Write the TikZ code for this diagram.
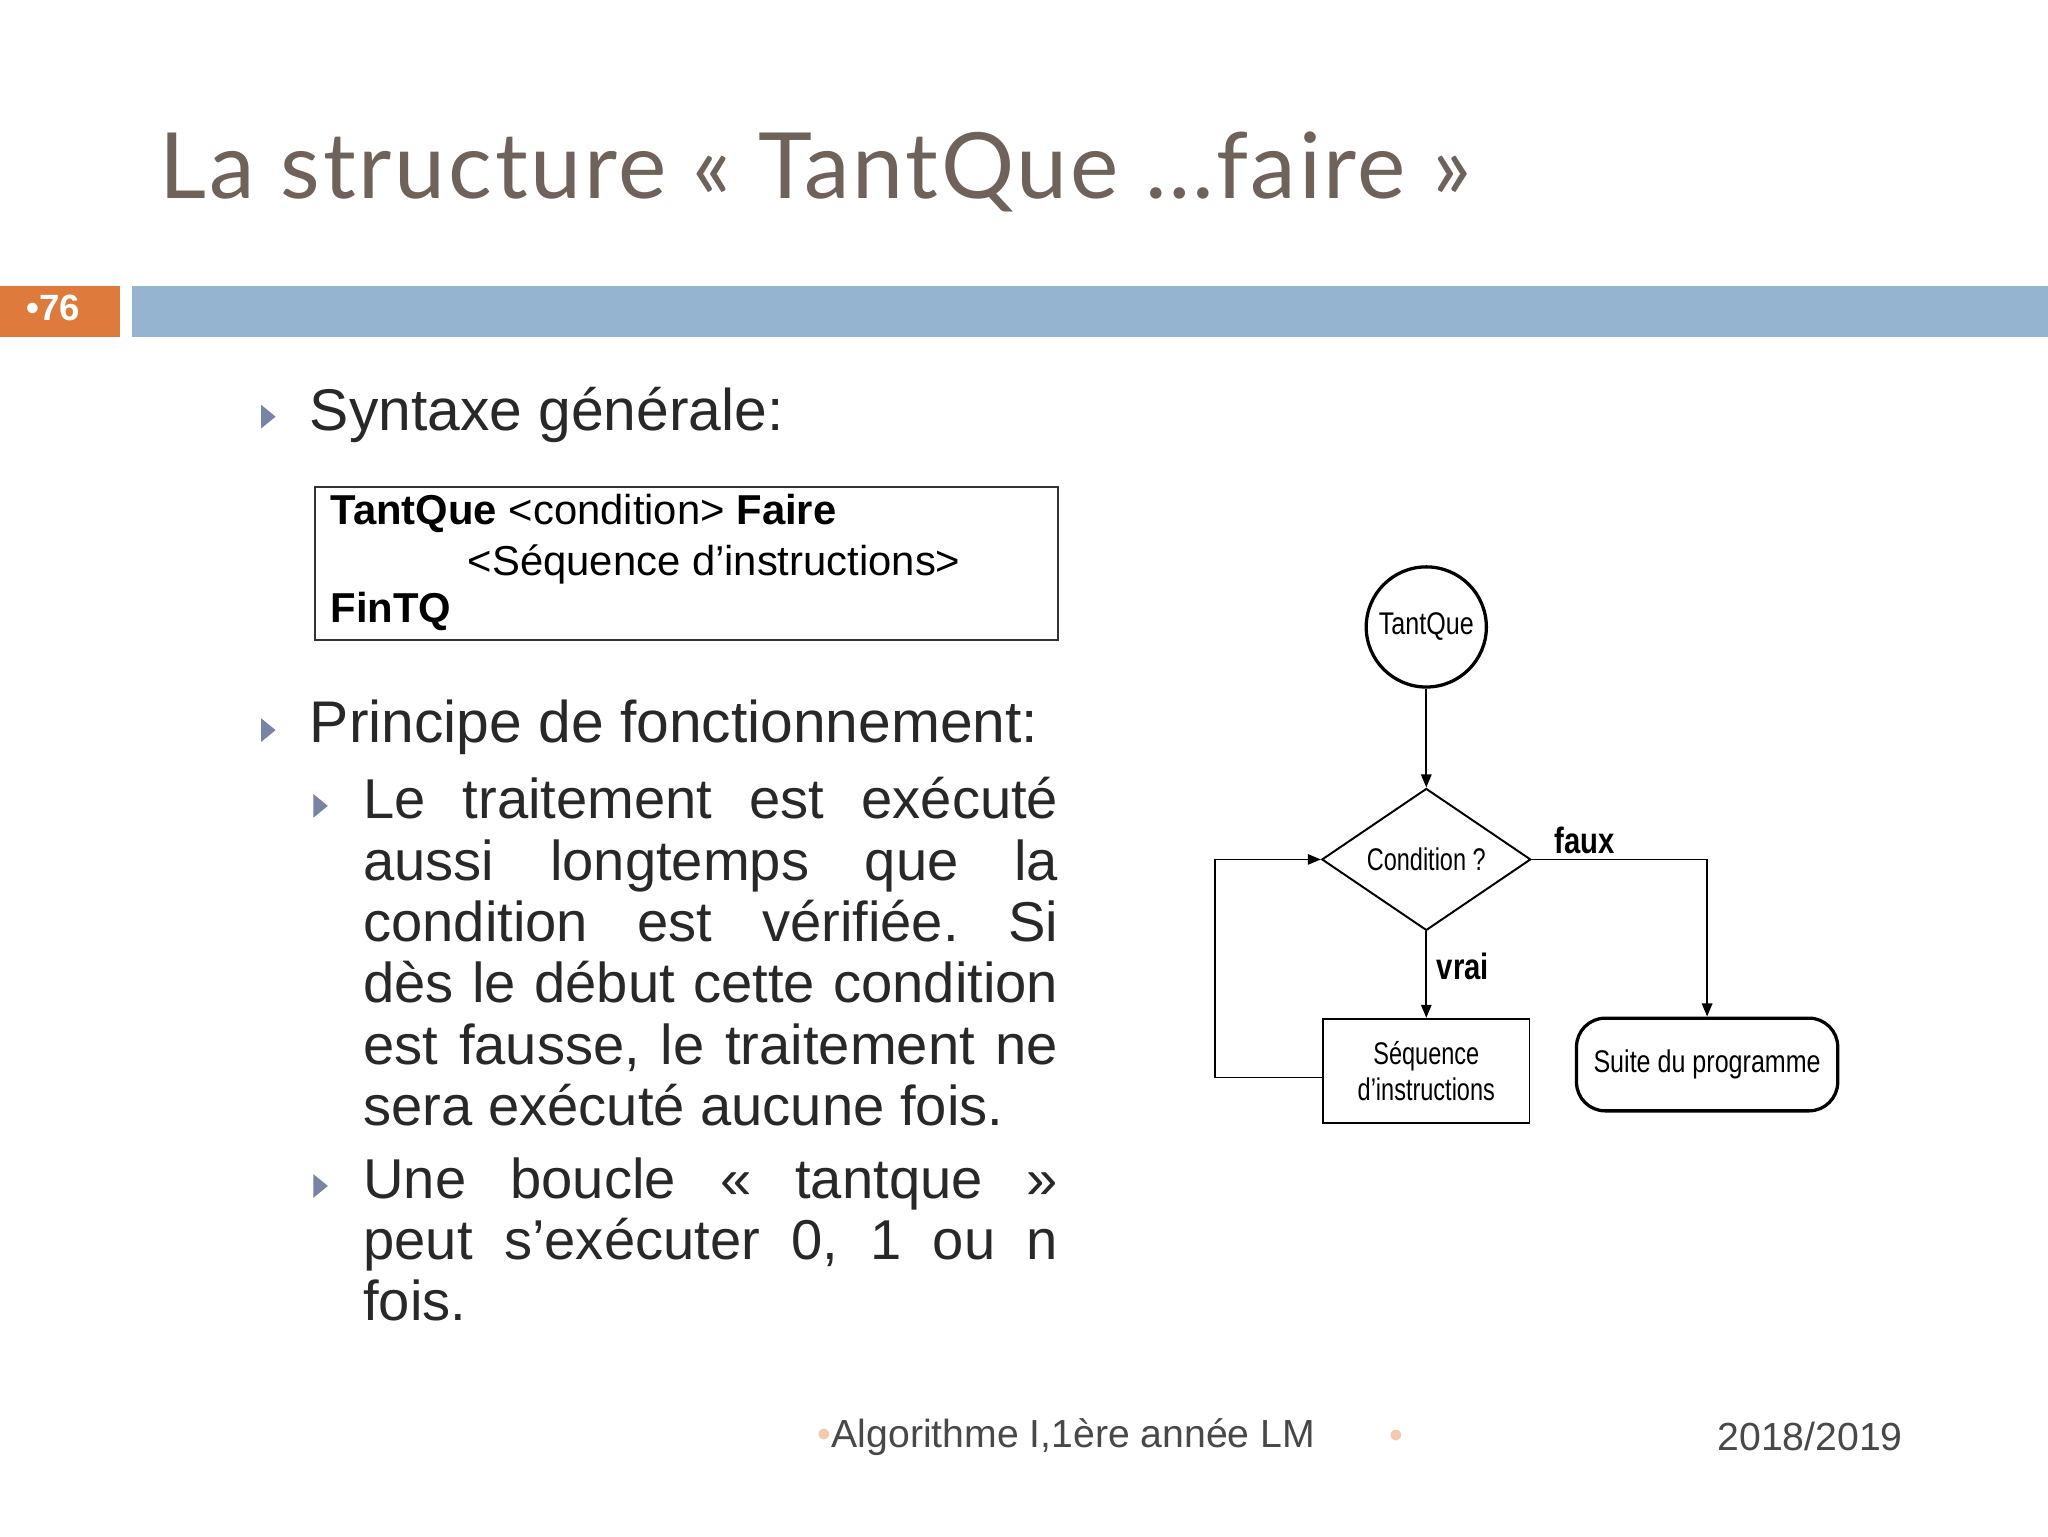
\documentclass[tikz,border=0pt]{standalone}
\usepackage{fontspec}
\setmainfont{Liberation Sans}
\newfontfamily\titlefont[LetterSpace=3]{Lato}
\usetikzlibrary{shapes.geometric,arrows.meta}
\frenchspacing
\definecolor{titlec}{RGB}{110,98,90}
\definecolor{barblue}{RGB}{148,180,208}
\definecolor{barorange}{RGB}{221,122,60}
\definecolor{bulc}{RGB}{120,132,165}
\definecolor{txt}{RGB}{40,40,40}
\tikzset{
 bul/.style={fill=bulc,draw=none},
 fc/.style={draw,line width=1.5pt},
 fctext/.style={font=\fontsize{24}{26}\selectfont},
 arr/.style={line width=1.3pt,-{Triangle[length=10pt,width=8pt]}},
 body/.style={anchor=north west,inner sep=0,text=txt,align=left,font=\fontsize{43}{47}\selectfont}
}
\newcommand{\jl}[1]{\makebox[532pt][s]{#1}}
\newcommand{\bullettri}[2]{\fill[bul] (#1-5,#2-9) -- (#1+6,#2) -- (#1-5,#2+9) -- cycle;}
\begin{document}
\begin{tikzpicture}[x=1pt,y=-1pt]
\useasboundingbox[fill=white] (0,0) rectangle (1568,1176);
\node[anchor=base west,text=titlec,inner sep=0,font=\titlefont\fontsize{70}{72}\selectfont] (title) at (122,152) {La structure « TantQue …faire »};
\fill[barorange] (0,219) rectangle (92,258);
\fill[barblue] (101,219) rectangle (1568,258);
\node[text=white,font=\bfseries\fontsize{28}{30}\selectfont,anchor=west,inner sep=0] (num) at (20,236) {\textbullet76};
\bullettri{205}{319}
\node[anchor=west,inner sep=0,text=txt,font=\fontsize{45}{46}\selectfont] (syn) at (237,318) {Syntaxe générale:};
\draw[line width=1.5pt,draw=black!80] (241,373) rectangle (810,490);
\node[anchor=west,inner sep=0,font=\fontsize{32}{34}\selectfont] (l1) at (253,393) {\textbf{TantQue} <condition> \textbf{Faire}};
\node[anchor=west,inner sep=0,font=\fontsize{32}{34}\selectfont] (l2) at (358,432) {<Séquence d’instructions>};
\node[anchor=west,inner sep=0,font=\fontsize{32}{34}\selectfont] (l3) at (253,468) {\textbf{FinTQ}};
\bullettri{205}{559}
\node[anchor=west,inner sep=0,text=txt,font=\fontsize{45}{46}\selectfont] (pri) at (237,557) {Principe de fonctionnement:};
\bullettri{245}{617}
\node[body] (p1) at (278,595) {\jl{Le traitement est exécuté}\\\jl{aussi longtemps que la}\\\jl{condition est vérifiée. Si}\\\jl{dès le début cette condition}\\\jl{est fausse, le traitement ne}\\sera exécuté aucune fois.};
\bullettri{245}{908}
\node[body] (p2) at (278,886) {\jl{Une boucle « tantque »}\\\jl{peut s’exécuter 0, 1 ou n}\\fois.};
% footer
\node[anchor=west,inner sep=0,text=txt!85,font=\fontsize{30}{32}\selectfont] (f1) at (626,1100) {{\color{barorange!40}\textbullet}Algorithme I,1ère année LM};
\node[inner sep=0,text=barorange!40,font=\fontsize{30}{32}\selectfont] (f2) at (1069,1102) {\textbullet};
\node[anchor=east,inner sep=0,text=txt!85,font=\fontsize{30}{32}\selectfont] (f3) at (1457,1100) {2018/2019};
% flowchart
\node[fc,circle,line width=2.5pt,minimum size=92pt,inner sep=0,fctext] (tq) at (1092,480) {\scalebox{0.8}[1]{TantQue}};
\node[fc,diamond,minimum width=160pt,minimum height=100pt,inner sep=0,fctext] (cond) at (1092,658) {\scalebox{0.75}[1]{Condition ?}};
\node[fc,rectangle,minimum width=158pt,minimum height=80pt,inner sep=0,fctext,align=center] (seq) at (1092,820) {\scalebox{0.75}[1]{Séquence}\\[2pt]\scalebox{0.75}[1]{d’instructions}};
\node[fc,rectangle,line width=2.5pt,rounded corners=22pt,minimum width=200pt,minimum height=71pt,inner sep=0,fctext] (suite) at (1307,815) {\scalebox{0.8}[1]{Suite du programme}};
\draw[arr] (tq) -- (cond);
\draw[arr] (cond) -- node[right,pos=0.4,font=\fontsize{28}{28}\selectfont\bfseries,xshift=4pt]{\scalebox{0.8}[1]{vrai}} (seq);
\draw[arr] (cond.east) -- node[above,font=\fontsize{28}{28}\selectfont\bfseries,pos=0.3]{\scalebox{0.8}[1]{faux}} (suite.north |- cond.east) -- (suite.north);
\coordinate (lb) at (930,825);
\draw[arr] (seq.west |- lb) -- (lb) -- (lb |- cond.west) -- (cond.west);
\end{tikzpicture}
\end{document}
